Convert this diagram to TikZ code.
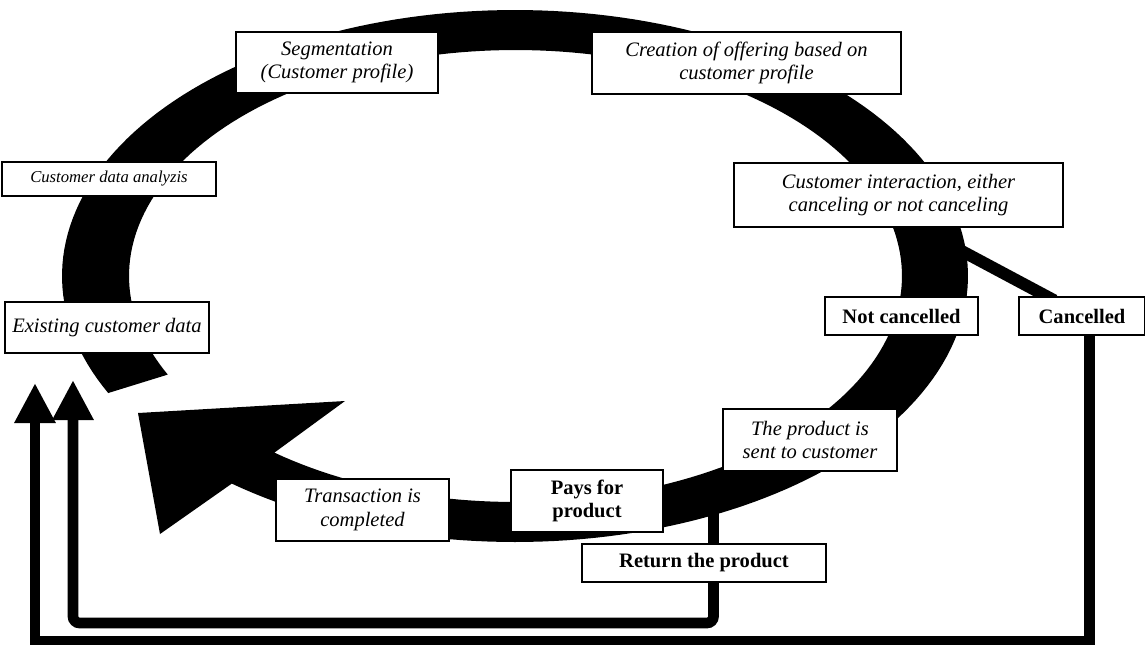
\documentclass[tikz,border=0pt]{standalone}
\usepackage{fontspec}
\setmainfont{Liberation Serif}
\usetikzlibrary{arrows.meta,calc,backgrounds}
\begin{document}
\begin{tikzpicture}[x=0.75pt,y=-0.75pt,
  box/.style={draw=black, line width=0.9pt, fill=white, inner sep=0pt, align=center,
    font=\fontsize{15.4}{17.6}\selectfont\itshape},
  boldbox/.style={box, font=\fontsize{15.4}{17.6}\selectfont\bfseries},
  smallbox/.style={box, font=\fontsize{12.5}{15}\selectfont\itshape},
  wh/.style 2 args={minimum width=#1*0.75pt, minimum height=#2*0.75pt},
  flowline/.style={line width=8pt},
  headtip/.style={-{Triangle[width=29pt,length=30pt]}}
]
\useasboundingbox (0,0) rectangle (1145,644);

% boxes
\node[box, wh={202}{61}] (seg) at (337,62.5) {Segmentation\\(Customer profile)};
\node[box, wh={309}{62}] (create) at (746.5,63) {Creation of offering based on\\customer profile};
\node[smallbox, wh={214}{34}] (anal) at (109,179) {Customer data analyzis};
\node[box, wh={329}{64}] (inter) at (898.5,195) {Customer interaction, either\\canceling or not canceling};
\node[box, wh={204}{51}] (exist) at (107,327.5) {Existing customer data};
\node[boldbox, wh={153}{38}] (notc) at (901.5,316) {Not cancelled};
\node[boldbox, wh={126}{38}] (canc) at (1082,316) {Cancelled};
\node[box, wh={174}{62}] (sent) at (810,440) {The product is\\sent to customer};
\node[box, wh={173}{62}] (trans) at (362.5,510) {Transaction is\\completed};
\node[boldbox, wh={152}{62}] (pays) at (587,501) {Pays for\\product};
\node[boldbox, wh={244}{38}] (ret) at (704,563) {Return the product};

\coordinate (ringC) at (958,249);
\coordinate (ringR) at (713.5,505);

\begin{scope}[on background layer]
% the big circular arrow: band between two ellipses, ending in an arrowhead
\fill[black]
  plot[domain=153.9:488.7, samples=200, variable=\t]
    ({515+453*cos(\t)},{276+266*sin(\t)})
  -- (160,534) -- (138,413) -- (345,401)
  -- plot[domain=0:1, samples=200, variable=\s]
    ({515.5+386.5*cos(488.6-334.8*\s)},{276+226*sin(488.6-334.8*\s)})
  -- cycle;
% connectors
\draw[line width=9pt] (ringC) -- ($(canc.north west)+(36,4)$);
\draw[flowline, headtip] ($(canc.south)+(7.5,-4)$) |- (35,641) -- (35,383);
\draw[flowline, headtip, rounded corners=5pt] (ringR) |- (73,623) -- (73,380);
\end{scope}
\end{tikzpicture}
\end{document}
